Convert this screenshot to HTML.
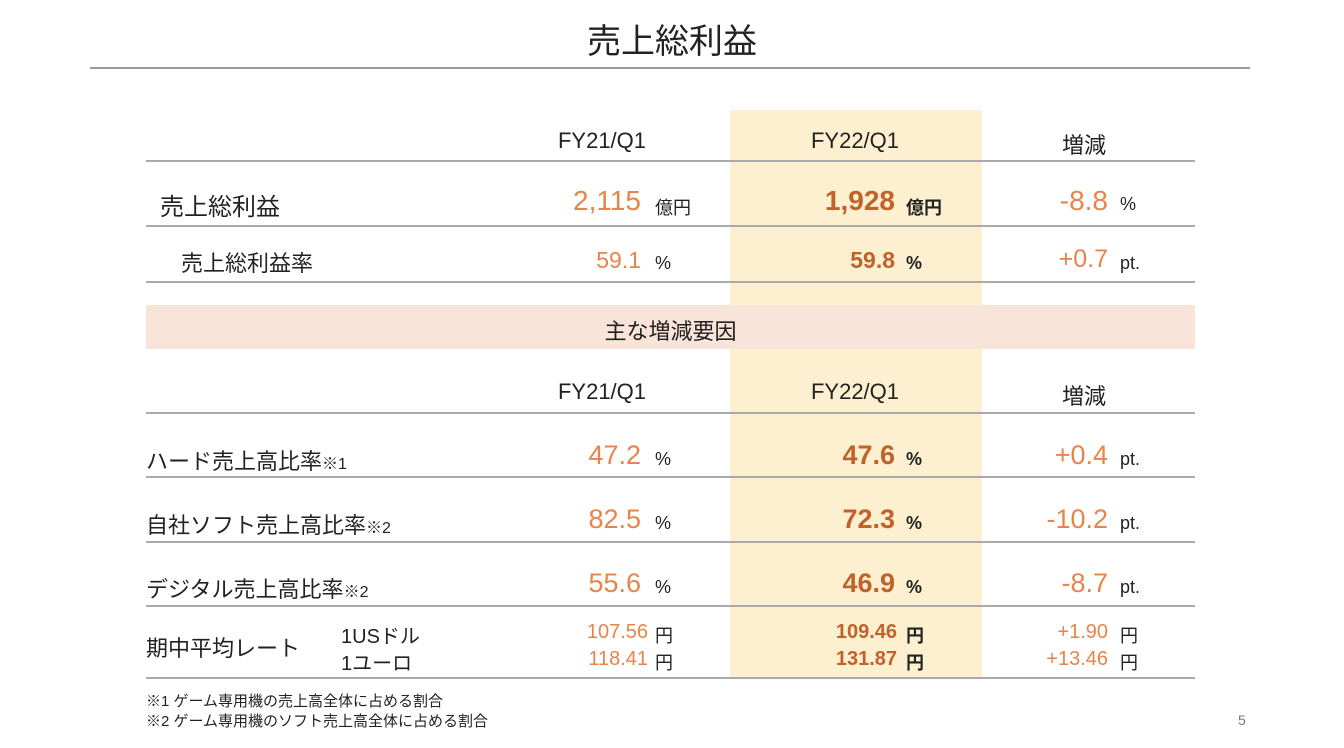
<!DOCTYPE html>
<html><head><meta charset="utf-8"><style>
body{margin:0;width:1344px;height:748px;background:#fff;position:relative;overflow:hidden;font-family:"Liberation Sans","Noto Sans CJK JP",sans-serif;color:#222}
div{position:absolute;white-space:nowrap}
.l{height:2px;background:#aaa;left:146px;width:1049px}
.h{font-size:22px;transform:translateX(-50%)}
.n{text-align:right;color:#e8844a}
.b{color:#c0622a;font-weight:bold}
.u{font-size:18px}
.ub{font-size:18px;font-weight:bold}
</style></head><body>
<div style="left:0;width:1344px;text-align:center;top:14px;font-size:34px">売上総利益</div>
<div style="left:90px;width:1160px;top:67px;height:2px;background:#999"></div>
<div style="left:730px;width:252px;top:110px;height:568px;background:#fdf0d0"></div>
<div style="left:146px;width:1049px;top:305px;height:44px;background:#f8e4d8"></div>
<div style="left:146px;width:1049px;text-align:center;top:314px;font-size:22px">主な増減要因</div>

<div class="h" style="left:602px;top:128px">FY21/Q1</div>
<div class="h" style="left:855px;top:128px">FY22/Q1</div>
<div class="h" style="left:1084px;top:128px">増減</div>
<div class="l" style="top:160px"></div>

<div style="left:160px;top:187px;font-size:24px">売上総利益</div>
<div class="n" style="right:703px;top:185px;font-size:28px">2,115</div>
<div class="u" style="left:655px;top:194px">億円</div>
<div class="n b" style="right:449px;top:185px;font-size:28px">1,928</div>
<div class="ub" style="left:906px;top:194px">億円</div>
<div class="n" style="right:236px;top:185px;font-size:28px">-8.8</div>
<div class="u" style="left:1120px;top:194px">%</div>
<div class="l" style="top:225px"></div>

<div style="left:181px;top:246px;font-size:22px">売上総利益率</div>
<div class="n" style="right:703px;top:247px;font-size:23px">59.1</div>
<div class="u" style="left:655px;top:253px">%</div>
<div class="n b" style="right:449px;top:247px;font-size:23px">59.8</div>
<div class="ub" style="left:906px;top:253px">%</div>
<div class="n" style="right:236px;top:245px;font-size:25px">+0.7</div>
<div class="u" style="left:1120px;top:253px">pt.</div>
<div class="l" style="top:281px"></div>

<div class="h" style="left:602px;top:379px">FY21/Q1</div>
<div class="h" style="left:855px;top:379px">FY22/Q1</div>
<div class="h" style="left:1084px;top:379px">増減</div>
<div class="l" style="top:412px"></div>

<div style="left:146px;top:444px;font-size:22px">ハード売上高比率<span style="font-size:16px">※1</span></div>
<div class="n" style="right:703px;top:440px;font-size:27px">47.2</div>
<div class="u" style="left:655px;top:449px">%</div>
<div class="n b" style="right:449px;top:440px;font-size:27px">47.6</div>
<div class="ub" style="left:906px;top:449px">%</div>
<div class="n" style="right:236px;top:440px;font-size:27px">+0.4</div>
<div class="u" style="left:1120px;top:449px">pt.</div>
<div class="l" style="top:476px"></div>

<div style="left:146px;top:508px;font-size:22px">自社ソフト売上高比率<span style="font-size:16px">※2</span></div>
<div class="n" style="right:703px;top:504px;font-size:27px">82.5</div>
<div class="u" style="left:655px;top:513px">%</div>
<div class="n b" style="right:449px;top:504px;font-size:27px">72.3</div>
<div class="ub" style="left:906px;top:513px">%</div>
<div class="n" style="right:236px;top:504px;font-size:27px">-10.2</div>
<div class="u" style="left:1120px;top:513px">pt.</div>
<div class="l" style="top:541px"></div>

<div style="left:146px;top:572px;font-size:22px">デジタル売上高比率<span style="font-size:16px">※2</span></div>
<div class="n" style="right:703px;top:568px;font-size:27px">55.6</div>
<div class="u" style="left:655px;top:577px">%</div>
<div class="n b" style="right:449px;top:568px;font-size:27px">46.9</div>
<div class="ub" style="left:906px;top:577px">%</div>
<div class="n" style="right:236px;top:568px;font-size:27px">-8.7</div>
<div class="u" style="left:1120px;top:577px">pt.</div>
<div class="l" style="top:605px"></div>

<div style="left:146px;top:631px;font-size:22px">期中平均レート</div>
<div style="left:341px;top:620px;font-size:20px">1USドル</div>
<div style="left:341px;top:647px;font-size:20px">1ユーロ</div>
<div class="n" style="right:696px;top:621px;font-size:20px">107.56</div>
<div class="n" style="right:696px;top:648px;font-size:20px">118.41</div>
<div class="u" style="left:655px;top:622px">円</div>
<div class="u" style="left:655px;top:649px">円</div>
<div class="n b" style="right:447px;top:621px;font-size:20px">109.46</div>
<div class="n b" style="right:447px;top:648px;font-size:20px">131.87</div>
<div class="ub" style="left:906px;top:622px">円</div>
<div class="ub" style="left:906px;top:649px">円</div>
<div class="n" style="right:236px;top:621px;font-size:20px">+1.90</div>
<div class="n" style="right:236px;top:648px;font-size:20px">+13.46</div>
<div class="u" style="left:1120px;top:622px">円</div>
<div class="u" style="left:1120px;top:649px">円</div>
<div class="l" style="top:677px"></div>

<div style="left:146px;top:690px;font-size:15px">※1 ゲーム専用機の売上高全体に占める割合</div>
<div style="left:146px;top:710px;font-size:15px">※2 ゲーム専用機のソフト売上高全体に占める割合</div>
<div style="left:1238px;top:712px;font-size:14px;color:#777">5</div>
</body></html>
